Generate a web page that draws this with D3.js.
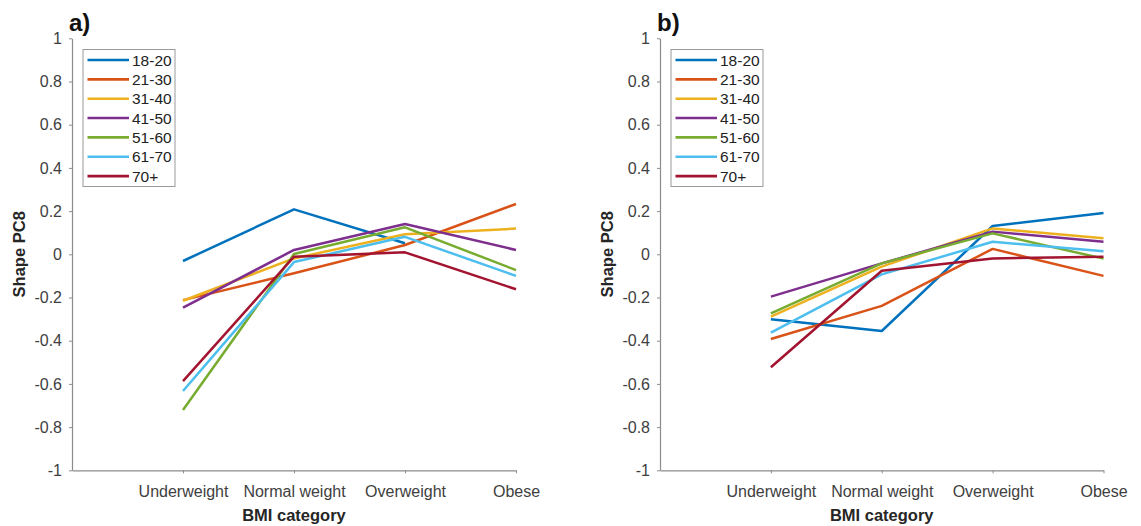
<!DOCTYPE html>
<html>
<head>
<meta charset="utf-8">
<script src="https://cdn.jsdelivr.net/npm/d3@7"></script>
<style>
  body { margin: 0; background: #fff; }
  svg { display: block; font-family: "Liberation Sans", Arial, Helvetica, sans-serif; }
</style>
</head>
<body>
<svg id="chart" width="1141" height="526"></svg>
<script>
// BMI categories along the x axis
const categories = ["Underweight", "Normal weight", "Overweight", "Obese"];
// Age groups (one line each)
const ageGroups = ["18-20", "21-30", "31-40", "41-50", "51-60", "61-70", "70+"];
const ageColors = ["#0072BD", "#D95319", "#EDB120", "#7E2F8E", "#77AC30", "#4DBEEE", "#A2142F"];
// y ticks and their printed labels
const yTicks = [1, 0.8, 0.6, 0.4, 0.2, 0, -0.2, -0.4, -0.6, -0.8, -1];
const yTickLabels = ["1", "0.8", "0.6", "0.4", "0.2", "0", "-0.2", "-0.4", "-0.6", "-0.8", "-1"];

// Panel a) Shape PC8 per age group, by BMI category (null = no data)
const pcA_18_20 = [-0.031, 0.208, 0.051, null];
const pcA_21_30 = [-0.212, -0.088, 0.043, 0.233];
const pcA_31_40 = [-0.215, -0.019, 0.093, 0.119];
const pcA_41_50 = [-0.247, 0.020, 0.140, 0.020];
const pcA_51_60 = [-0.721, 0.001, 0.125, -0.073];
const pcA_61_70 = [-0.633, -0.036, 0.081, -0.100];
const pcA_70p   = [-0.587, -0.011, 0.009, -0.162];

// Panel b) Shape PC8 per age group, by BMI category
const pcB_18_20 = [-0.301, -0.355, 0.131, 0.191];
const pcB_21_30 = [-0.392, -0.239, 0.025, -0.100];
const pcB_31_40 = [-0.289, -0.057, 0.120, 0.074];
const pcB_41_50 = [-0.196, -0.042, 0.105, 0.058];
const pcB_51_60 = [-0.273, -0.042, 0.097, -0.020];
const pcB_61_70 = [-0.363, -0.093, 0.058, 0.014];
const pcB_70p   = [-0.523, -0.076, -0.019, -0.011];

const seriesA = [pcA_18_20, pcA_21_30, pcA_31_40, pcA_41_50, pcA_51_60, pcA_61_70, pcA_70p];
const seriesB = [pcB_18_20, pcB_21_30, pcB_31_40, pcB_41_50, pcB_51_60, pcB_61_70, pcB_70p];

const svg = d3.select("#chart");
const axisColor = "#8c8c8c";
const textColor = "#404040";

function drawPanel(opts) {
  const { label, series, x0, x1, y0, y1 } = opts;
  const g = svg.append("g");

  // category index 1..4 on a linear scale starting at 0 on the y axis
  const x = d3.scaleLinear().domain([0, categories.length]).range([x0, x1]);
  const y = d3.scaleLinear().domain([-1, 1]).range([y1, y0]);

  // y axis
  const yAxis = d3.axisLeft(y)
    .tickValues(yTicks)
    .tickFormat((d, i) => yTickLabels[i])
    .tickSizeInner(3).tickSizeOuter(0).tickPadding(7);
  const ya = g.append("g").attr("transform", `translate(${x0},0)`).call(yAxis);

  // x axis
  const xAxis = d3.axisBottom(x)
    .tickValues(d3.range(1, categories.length + 1))
    .tickFormat(d => categories[d - 1])
    .tickSizeInner(3).tickSizeOuter(0).tickPadding(12);
  const xa = g.append("g").attr("transform", `translate(0,${y1})`).call(xAxis);

  [ya, xa].forEach(a => {
    a.select(".domain").attr("stroke", axisColor).attr("stroke-width", 1.2);
    a.selectAll(".tick line").attr("stroke", axisColor).attr("stroke-width", 1);
    a.selectAll(".tick text").attr("fill", textColor).style("font-size", "16px");
  });

  // lines, drawn in age-group order so later groups sit on top
  const line = d3.line()
    .defined(d => d != null)
    .x((d, i) => x(i + 1))
    .y(d => y(d));

  g.append("g").selectAll("path")
    .data(series)
    .join("path")
    .attr("d", d => line(d))
    .attr("fill", "none")
    .attr("stroke", (d, i) => ageColors[i])
    .attr("stroke-width", 2.5)
    .attr("stroke-linejoin", "round");

  // axis titles
  g.append("text")
    .attr("x", (x0 + x1) / 2)
    .attr("y", y1 + 51)
    .attr("text-anchor", "middle")
    .attr("fill", "#262626")
    .style("font-size", "16.5px")
    .style("font-weight", "bold")
    .text("BMI category");

  g.append("text")
    .attr("transform", `translate(${x0 - 47},${(y0 + y1) / 2}) rotate(-90)`)
    .attr("text-anchor", "middle")
    .attr("fill", "#262626")
    .style("font-size", "16.5px")
    .style("font-weight", "bold")
    .text("Shape PC8");

  // panel label
  g.append("text")
    .attr("x", x0 - 3)
    .attr("y", 31)
    .attr("fill", "#111")
    .style("font-size", "24px")
    .style("font-weight", "bold")
    .text(label);

  // legend
  const lx = x0 + 11, ly = 49.5, lw = 92, rowH = 19.35;
  const leg = g.append("g").attr("transform", `translate(${lx},${ly})`);
  leg.append("rect")
    .attr("width", lw).attr("height", 137)
    .attr("fill", "#fff")
    .attr("stroke", "#9a9a9a").attr("stroke-width", 1);
  const rows = leg.selectAll("g.row")
    .data(ageGroups)
    .join("g")
    .attr("class", "row")
    .attr("transform", (d, i) => `translate(0,${10.5 + i * rowH})`);
  rows.append("line")
    .attr("x1", 4.5).attr("x2", 46)
    .attr("stroke", (d, i) => ageColors[i])
    .attr("stroke-width", 2.6);
  rows.append("text")
    .attr("x", 49).attr("y", 5.5)
    .attr("fill", "#222")
    .style("font-size", "15.5px")
    .text(d => d);
}

drawPanel({ label: "a)", series: seriesA, x0: 72, x1: 516, y0: 38.3, y1: 470.3 });
drawPanel({ label: "b)", series: seriesB, x0: 660, x1: 1103.5, y0: 38.3, y1: 470.3 });
</script>
</body>
</html>
